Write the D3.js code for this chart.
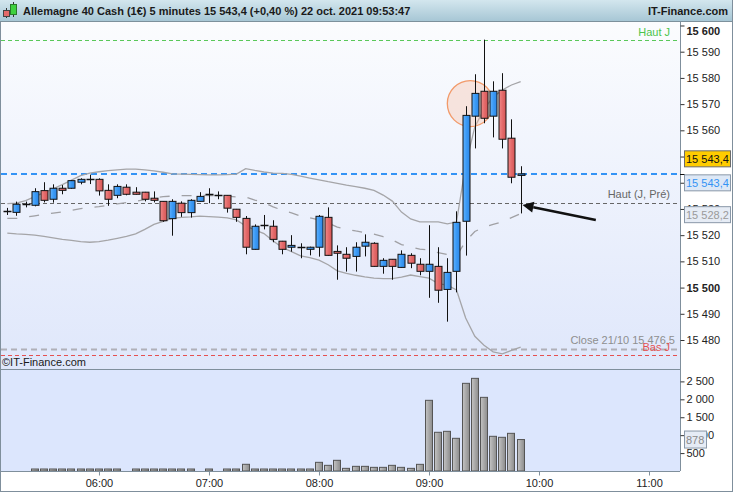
<!DOCTYPE html>
<html><head><meta charset="utf-8">
<script src="https://cdn.jsdelivr.net/npm/d3@7"></script>
<style>
html,body{margin:0;padding:0;background:#fff;}
svg{display:block;font-family:"Liberation Sans",Arial,sans-serif;}
</style></head><body>
<svg id="c" width="733" height="492"></svg>
<script>
// ---------- DATA ----------
const title = "Allemagne 40 Cash (1€) 5 minutes 15 543,4 (+0,40 %) 22 oct. 2021 09:53:47";
const brand = "IT-Finance.com";
const copyright = "©IT-Finance.com";
const times = ["05:10","05:15","05:20","05:25","05:30","05:35","05:40","05:45","05:50","05:55",
  "06:00","06:05","06:10","06:15","06:20","06:25","06:30","06:35","06:40","06:45",
  "06:50","06:55","07:00","07:05","07:10","07:15","07:20","07:25","07:30","07:35",
  "07:40","07:45","07:50","07:55","08:00","08:05","08:10","08:15","08:20","08:25",
  "08:30","08:35","08:40","08:45","08:50","08:55","09:00","09:05","09:10","09:15",
  "09:20","09:25","09:30","09:35","09:40","09:45","09:50"];
const open = [15529.2,15528.7,15531.8,15531.4,15537.0,15533.7,15537.9,15537.9,15540.2,15541.3,
  15541.3,15537.1,15535.2,15538.3,15536.4,15536.4,15534.1,15532.9,15526.3,15532.2,
  15528.6,15532.9,15535.6,15535.2,15535.2,15529.9,15526.4,15514.6,15523.8,15523.4,
  15517.7,15515.4,15515.6,15514.6,15515.4,15526.8,15513.8,15512.7,15511.9,15515.8,
  15516.9,15508.1,15510.8,15507.7,15512.3,15508.9,15506.2,15508.1,15499.3,15506.2,
  15525.3,15565.4,15574.9,15565.4,15575.3,15557.0,15542.8];
const high = [15530.4,15532.8,15532.8,15537.9,15540.2,15539.4,15539.1,15541.0,15541.7,15543.1,
  15541.7,15539.4,15539.4,15539.4,15538.3,15536.5,15536.7,15533.0,15533.7,15532.9,
  15533.7,15536.4,15537.9,15536.7,15535.3,15530.0,15527.3,15524.1,15527.7,15525.7,
  15517.8,15520.0,15516.9,15515.6,15527.7,15530.6,15516.1,15515.4,15517.3,15520.3,
  15517.3,15511.2,15510.9,15514.2,15513.1,15511.2,15523.8,15515.4,15511.2,15529.1,
  15569.2,15581.4,15594.6,15578.7,15581.8,15564.2,15546.3];
const low = [15527.7,15527.4,15530.6,15531.0,15532.5,15532.4,15535.6,15537.7,15539.4,15539.5,
  15535.1,15531.2,15534.1,15535.2,15535.5,15532.9,15532.5,15525.1,15519.8,15527.0,
  15526.7,15532.8,15532.2,15533.7,15528.6,15525.1,15512.7,15514.5,15522.2,15517.3,
  15512.7,15513.7,15511.2,15512.3,15511.8,15512.2,15503.0,15506.1,15506.1,15511.9,
  15508.0,15505.3,15503.0,15507.6,15507.4,15504.7,15496.1,15494.2,15487.0,15498.2,
  15512.2,15553.1,15562.7,15557.3,15553.1,15539.8,15528.3];
const close = [15529.0,15531.8,15531.6,15536.6,15533.3,15537.9,15537.1,15540.8,15541.3,15541.4,
  15536.9,15533.7,15538.6,15535.6,15535.6,15533.7,15533.3,15525.5,15532.9,15528.6,
  15533.3,15534.8,15535.6,15535.2,15530.3,15526.8,15515.4,15523.4,15523.8,15518.4,
  15514.6,15516.1,15515.6,15515.4,15527.2,15512.3,15513.1,15511.2,15515.4,15517.3,
  15508.1,15510.4,15508.1,15512.7,15509.3,15506.2,15508.9,15499.0,15505.8,15524.9,
  15565.7,15574.1,15564.6,15574.9,15556.6,15542.1,15543.4];
const volume = [0,0,0,45,20,45,20,20,20,20,
  20,20,20,0,20,20,20,20,45,20,
  20,0,20,0,20,20,187,45,20,45,
  20,20,20,20,242,158,298,74,130,130,
  102,102,158,102,74,186,1972,1080,1107,912,
  2446,2585,2055,968,940,1051,878];
const bbUpper = [15532.0,15532.2,15533.2,15534.7,15536.2,15537.7,15539.3,15541.0,15542.7,15543.7,
  15544.2,15544.6,15544.9,15545.2,15545.2,15544.9,15544.5,15544.0,15543.4,15543.3,
  15543.2,15543.1,15543.0,15543.0,15543.1,15543.3,15545.4,15544.7,15544.1,15543.7,
  15543.6,15543.2,15542.5,15541.8,15541.1,15540.4,15539.8,15539.1,15538.5,15537.9,
  15537.1,15535.3,15533.0,15528.8,15526.2,15525.1,15525.1,15525.1,15524.3,15525.0,
  15546.8,15561.3,15568.1,15572.7,15575.4,15577.3,15578.6];
const bbMiddle = [15526.4,15526.4,15526.8,15527.4,15527.9,15528.4,15528.9,15529.5,15530.1,15530.5,
  15530.9,15531.4,15531.9,15532.4,15532.9,15533.6,15534.3,15534.7,15534.9,15535.1,
  15535.1,15535.2,15535.1,15535.0,15534.9,15534.6,15534.5,15533.4,15532.4,15530.8,
  15529.5,15528.5,15527.3,15526.6,15525.8,15524.6,15523.1,15522.3,15521.6,15521.0,
  15520.4,15519.4,15518.2,15516.4,15515.5,15514.7,15514.4,15513.3,15512.6,15512.1,
  15517.6,15521.4,15523.1,15524.1,15525.1,15526.7,15528.2];
const bbLower = [15520.8,15520.5,15520.3,15520.0,15519.5,15519.0,15518.4,15518.0,15517.5,15517.3,
  15517.5,15518.1,15518.8,15519.5,15520.5,15522.2,15524.1,15525.3,15526.4,15526.8,
  15527.0,15527.3,15527.1,15526.9,15526.6,15525.8,15523.5,15522.0,15520.6,15517.8,
  15515.3,15513.7,15512.1,15511.4,15510.5,15508.7,15506.4,15505.4,15504.7,15504.1,
  15503.6,15503.4,15503.4,15504.0,15504.8,15504.2,15503.6,15501.5,15500.9,15499.1,
  15488.4,15481.4,15478.0,15475.5,15474.7,15476.0,15477.3];
const priceTicks = [15480,15490,15500,15510,15520,15530,15540,15550,15560,15570,15580,15590,15600];
const boldPriceTicks = [15500,15600];
const hiddenPriceLabels = [15540,15550];
const volumeTicks = [500,1000,1500,2000,2500];
const timeTicks = ["06:00","07:00","08:00","09:00","10:00","11:00"];
const levelNames = ["Haut J","Haut (J, Pré)","Close 21/10 15 476,5","Bas J"];
const levelValues = [15594.6,15532.3,15476.5,15474.4];
const lastPrice = 15543.4;
const lastMiddle = 15528.2;
const lastVolume = 878;
const timeStart = "05:10", timeEnd = "11:00";
const highlightTime = "09:25", highlightPrice = 15570.2;
const arrowTail = ["10:31", 15525.8], arrowHead = ["09:51", 15531.5];

// ---------- SETUP ----------
const loc = d3.formatLocale({decimal:",", thousands:"\u00a0", grouping:[3], currency:["","€"]});
const f0 = loc.format(",.0f"), f1 = loc.format(",.1f");
const parse = d3.timeParse("%H:%M");
const svg = d3.select("#c");
const W = 733, H = 492;
const plotL = 1, plotR = 680, mainT = 22, mainB = 369, volT = 370, volB = 471;

const x = d3.scaleTime().domain([parse(timeStart), parse(timeEnd)]).range([7.3, 649]);
const y = d3.scaleLinear().domain([15480, 15590]).range([340, 51.7]);
const yv = d3.scaleLinear().domain([0, 2500]).range([471, 381.4]);

const defs = svg.append("defs");
function lg(id, stops, vertical=true){
  const g = defs.append("linearGradient").attr("id", id)
    .attr("x1",0).attr("y1",0).attr("x2", vertical?0:1).attr("y2", vertical?1:0);
  stops.forEach(s=>g.append("stop").attr("offset",s[0]).attr("stop-color",s[1]));
}
lg("hdr", [[0,"#d3e6ee"],[1,"#a7c7d5"]]);
lg("plotbg", [[0,"#fbfcfe"],[1,"#dfe7fb"]]);
lg("blueBody", [[0,"#62b2ff"],[0.5,"#3a9af5"],[1,"#2e86e6"]], false);
lg("redBody", [[0,"#f08a8a"],[0.5,"#e46a6a"],[1,"#d45656"]], false);
lg("volBar", [[0,"#c4c4c4"],[0.5,"#a8a8a8"],[1,"#8c8c8c"]], false);
defs.append("clipPath").attr("id","mainClip").append("rect")
  .attr("x",plotL).attr("y",mainT).attr("width",plotR-plotL).attr("height",mainB-mainT);

// background
svg.append("rect").attr("width",W).attr("height",H).attr("fill","#ffffff");
svg.append("rect").attr("x",plotL).attr("y",mainT).attr("width",plotR-plotL).attr("height",mainB-mainT).attr("fill","url(#plotbg)");
svg.append("rect").attr("x",plotL).attr("y",volT).attr("width",plotR-plotL).attr("height",volB-volT).attr("fill","#dce6fd");

// header
svg.append("rect").attr("x",0).attr("y",0).attr("width",W).attr("height",21).attr("fill","url(#hdr)");
svg.append("line").attr("x1",0).attr("x2",W).attr("y1",21.5).attr("y2",21.5).attr("stroke","#7d919c");
svg.append("line").attr("x1",6.5).attr("x2",6.5).attr("y1",8).attr("y2",18).attr("stroke","#333");
svg.append("rect").attr("x",3.5).attr("y",10.5).attr("width",6).attr("height",6).attr("fill","#e46a6a").attr("stroke","#444");
svg.append("line").attr("x1",13.5).attr("x2",13.5).attr("y1",2).attr("y2",17).attr("stroke","#333");
svg.append("rect").attr("x",10.5).attr("y",4.5).attr("width",6).attr("height",10).attr("fill","#3fd13f").attr("stroke","#2a7a2a");
svg.append("text").attr("x",23).attr("y",15).attr("font-size",11).attr("font-weight","bold").attr("fill","#1a1a1a").text(title);
svg.append("text").attr("x",728).attr("y",15).attr("text-anchor","end").attr("font-size",11).attr("font-weight","bold").attr("fill","#1a1a1a").text(brand);

const main = svg.append("g").attr("clip-path","url(#mainClip)");

// horizontal levels
const levelStyles = [
  {c:"#5ac85a", w:1, d:"4,3"},
  {c:"#666666", w:1, d:"4,3"},
  {c:"#b0b0b8", w:2.2, d:"6,4"},
  {c:"#e55050", w:1, d:"4,3"}
];
levelValues.forEach((v,i)=>{
  const yy = Math.round(y(v))+0.5;
  main.append("line").attr("x1",plotL).attr("x2",plotR).attr("y1",yy).attr("y2",yy)
    .attr("stroke",levelStyles[i].c).attr("stroke-width",levelStyles[i].w).attr("stroke-dasharray",levelStyles[i].d);
});
{
  const yy = Math.round(y(lastPrice));
  main.append("line").attr("x1",plotL).attr("x2",plotR).attr("y1",yy).attr("y2",yy)
    .attr("stroke","#3393f5").attr("stroke-width",2).attr("stroke-dasharray","6,4");
}

// Bollinger
const tms = times.map(parse);
const lineGen = arr => d3.line().x((d,i)=>x(tms[i])).y(d=>y(d))(arr);
main.append("path").attr("d",lineGen(bbUpper)).attr("fill","none").attr("stroke","#a5a5a8").attr("stroke-width",1.3);
main.append("path").attr("d",lineGen(bbLower)).attr("fill","none").attr("stroke","#a5a5a8").attr("stroke-width",1.3);
main.append("path").attr("d",lineGen(bbMiddle)).attr("fill","none").attr("stroke","#a0a0a4").attr("stroke-width",1.3).attr("stroke-dasharray","10,12");

// level labels
const labelColors = ["#4cc44c","#666666","#8e8e8e","#e55050"];
const labelDy = [-4,-5,-5,-4];
levelNames.forEach((n,i)=>{
  main.append("text").attr("x", i===2?675:670).attr("y", y(levelValues[i])+labelDy[i])
    .attr("text-anchor","end").attr("font-size",11).attr("fill",labelColors[i]).text(n);
});

// highlight circle
main.append("circle").attr("cx",x(parse(highlightTime))-4.5).attr("cy",y(highlightPrice)).attr("r",23)
  .attr("fill","rgba(250,190,160,0.35)").attr("stroke","#f29a6a").attr("stroke-width",1.3);

// candles
const cw = 7;
const cg = main.append("g");
times.forEach((t,i)=>{
  const cx = Math.round(x(tms[i]))+0.5;
  cg.append("line").attr("x1",cx).attr("x2",cx).attr("y1",y(high[i])).attr("y2",y(low[i])).attr("stroke","#111").attr("stroke-width",1);
  const top = y(Math.max(open[i],close[i])), bot = y(Math.min(open[i],close[i]));
  const h = bot-top;
  if (h < 0.6) {
    cg.append("line").attr("x1",cx-4).attr("x2",cx+4).attr("y1",Math.round(top)+0.5).attr("y2",Math.round(top)+0.5).attr("stroke","#111").attr("stroke-width",1.5);
  } else {
    cg.append("rect").attr("x",cx-cw/2).attr("y",top).attr("width",cw).attr("height",Math.max(h,1))
      .attr("fill", close[i]>=open[i] ? "url(#blueBody)" : "url(#redBody)")
      .attr("stroke","#111").attr("stroke-width",1);
  }
});

// arrow
{
  const x1 = x(parse(arrowTail[0])), y1 = y(arrowTail[1]);
  const x2 = x(parse(arrowHead[0])), y2 = y(arrowHead[1]);
  const ang = Math.atan2(y2-y1, x2-x1);
  const L = 11, Wd = 5.5;
  const bx = x2 - L*Math.cos(ang), by = y2 - L*Math.sin(ang);
  main.append("line").attr("x1",x1).attr("y1",y1).attr("x2",bx).attr("y2",by).attr("stroke","#111").attr("stroke-width",2.5);
  main.append("path").attr("d",`M${x2},${y2}L${bx+Wd*Math.sin(ang)},${by-Wd*Math.cos(ang)}L${bx-Wd*Math.sin(ang)},${by+Wd*Math.cos(ang)}Z`).attr("fill","#111");
}

// copyright
svg.append("text").attr("x",2).attr("y",366).attr("font-size",11).attr("fill","#1a1a1a").text(copyright);

// volume bars
const vg = svg.append("g");
volume.forEach((v,i)=>{
  if (!v) return;
  const cx = Math.round(x(tms[i]));
  const top = Math.min(yv(v), volB-2);
  vg.append("rect").attr("x",cx-3.5).attr("y",top).attr("width",7).attr("height",volB-top)
    .attr("fill","url(#volBar)").attr("stroke","#555").attr("stroke-width",1);
});

// borders
const bc = "#7f8f9c";
svg.append("line").attr("x1",0.5).attr("x2",0.5).attr("y1",22).attr("y2",491).attr("stroke",bc);
svg.append("line").attr("x1",732.5).attr("x2",732.5).attr("y1",0).attr("y2",492).attr("stroke",bc);
svg.append("line").attr("x1",0).attr("x2",733).attr("y1",491.5).attr("y2",491.5).attr("stroke",bc);
svg.append("line").attr("x1",plotR+0.5).attr("x2",plotR+0.5).attr("y1",22).attr("y2",volB).attr("stroke",bc);
svg.append("line").attr("x1",0).attr("x2",plotR).attr("y1",mainB+0.5).attr("y2",mainB+0.5).attr("stroke",bc);
svg.append("line").attr("x1",0).attr("x2",plotR).attr("y1",volB+0.5).attr("y2",volB+0.5).attr("stroke",bc);

// price axis
const yAxis = d3.axisRight(y).tickValues(priceTicks).tickSize(4).tickPadding(2)
  .tickFormat(d => hiddenPriceLabels.includes(d) ? "" : f0(d));
const ya = svg.append("g").attr("transform",`translate(${plotR+0.5},0)`).call(yAxis);
ya.select(".domain").remove();
ya.selectAll(".tick line").attr("stroke","#333");
ya.selectAll(".tick text").attr("font-size",11).attr("fill","#222").attr("font-family","Liberation Sans, Arial, sans-serif")
  .attr("font-weight", d=>boldPriceTicks.includes(d)?"bold":null)
  .attr("dy", d=>d===15600 ? "0.85em" : "0.32em");
svg.append("line").attr("x1",plotR).attr("x2",plotR+5).attr("y1",Math.round(y(lastPrice))+0.5).attr("y2",Math.round(y(lastPrice))+0.5).attr("stroke","#111");

// value boxes
function box(yc, txt, fill, stroke, color){
  svg.append("rect").attr("x",684.5).attr("y",yc-8).attr("width",46).attr("height",16).attr("fill",fill).attr("stroke",stroke);
  svg.append("text").attr("x",686).attr("y",yc+4).attr("font-size",11).attr("fill",color).text(txt);
}
box(y(lastPrice)-15, f1(lastPrice), "#ffcc00", "#6b6b6b", "#111");
box(y(lastPrice)+9, f1(lastPrice), "#dde8f6", "#8a98a8", "#3393f5");
box(y(lastMiddle)+1, f1(lastMiddle), "#e6ecf5", "#8a98a8", "#9a9a9a");

// volume axis
const vAxis = d3.axisRight(yv).tickValues(volumeTicks).tickSize(4).tickPadding(2).tickFormat(f0);
const va = svg.append("g").attr("transform",`translate(${plotR+0.5},0)`).call(vAxis);
va.select(".domain").remove();
va.selectAll(".tick line").attr("stroke","#333");
va.selectAll(".tick text").attr("font-size",11).attr("fill","#222").attr("font-family","Liberation Sans, Arial, sans-serif");
svg.append("rect").attr("x",684.5).attr("y",yv(lastVolume)-8.5).attr("width",22).attr("height",17).attr("fill","#e6ecf5").attr("stroke","#8a98a8");
svg.append("text").attr("x",686).attr("y",yv(lastVolume)+4).attr("font-size",11).attr("fill","#8a8a8a").text(lastVolume);

// time axis
const xAxis = d3.axisBottom(x).tickValues(timeTicks.map(parse)).tickSize(4).tickPadding(4).tickFormat(d3.timeFormat("%H:%M"));
const xa = svg.append("g").attr("transform",`translate(0,${volB+0.5})`).call(xAxis);
xa.select(".domain").remove();
xa.selectAll(".tick line").attr("stroke",bc);
xa.selectAll(".tick text").attr("font-size",11).attr("fill","#222").attr("font-family","Liberation Sans, Arial, sans-serif");
</script>
</body></html>
